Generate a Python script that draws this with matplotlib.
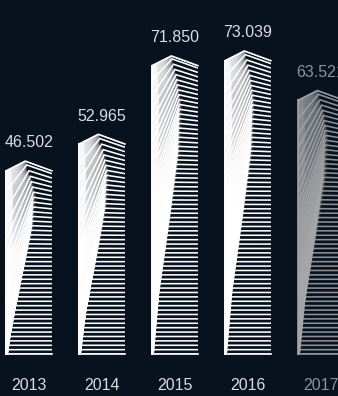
import numpy as np
import matplotlib
matplotlib.use("Agg")
import matplotlib.pyplot as plt
from matplotlib.patches import Polygon
from matplotlib.colors import to_rgb

# Values shown above each bar
years = ["2013", "2014", "2015", "2016", "2017"]
values = [46.502, 52.965, 71.850, 73.039, 63.521]
value_labels = ["46.502", "52.965", "71.850", "73.039", "63.521"]
highlight = [True, True, True, True, False]

BG = "#08121f"
W_PX, H_PX = 338, 396
DPI = 100

fig = plt.figure(figsize=(W_PX / DPI, H_PX / DPI), dpi=DPI, facecolor=BG)
ax = fig.add_axes([0, 0, 1, 1], facecolor=BG)
XMIN, XMAX, YMIN, YMAX = -0.397, 4.233, -10.1, 85.3
ax.set_xlim(XMIN, XMAX)
ax.set_ylim(YMIN, YMAX)
ax.axis("off")

# pixel scale of the data axes (keeps stripe slopes in screen space)
px_x = W_PX / (XMAX - XMIN)
px_y = H_PX / (YMAX - YMIN)

half_w = 0.315
step = 1.06          # vertical spacing between stripes
roof = 2.35          # roof rise above the eaves
peak_f = 0.42        # roof ridge position across the bar

# where each stripe turns down towards the lit face, by relative height
ctrl_u = [0.0, 0.22, 0.48, 0.70, 0.86, 0.95, 1.0]
ctrl_f = [0.03, 0.15, 0.38, 0.56, 0.60, 0.52, 0.42]
# brightness of the lit face by relative height
lit_u = [0.0, 0.55, 0.75, 0.88, 0.96, 1.0]
lit_a = [1.0, 1.0, 0.82, 0.78, 0.88, 0.9]


def draw_tower(x, v, color, alpha):
    xl, xr = x - half_w, x + half_w
    w = xr - xl
    top = v - roof
    outline = [(xl, 0), (xl, top), (xl + peak_f * w, v), (xr, top), (xr, 0)]
    clip = Polygon(outline, closed=True, transform=ax.transData)

    # lit face: soft white gradient left of the stripe break line
    ny, nx = 300, 120
    yy = np.linspace(v, 0, ny)[:, None]
    xx = np.linspace(0, 1, nx)[None, :]
    u = np.clip(yy / top, 0, 1)
    b = np.interp(u.ravel(), ctrl_u, ctrl_f).reshape(u.shape)
    base = np.interp(u.ravel(), lit_u, lit_a).reshape(u.shape)
    t = xx / b
    a = np.where(t <= 1, base * (1 - 0.45 * np.clip(t, 0, 1) ** 3),
                 base * 0.55 * np.exp(-((t - 1) / 0.06) ** 2))
    a = np.where(t < 0.25, np.maximum(a, 0.97), a)
    rgba = np.zeros((ny, nx, 4))
    rgba[..., :3] = to_rgb(color)
    rgba[..., 3] = np.clip(a, 0, 1) * alpha
    im = ax.imshow(rgba, extent=[xl, xr, 0, v], origin="upper",
                   aspect="auto", interpolation="bilinear", zorder=1)
    im.set_clip_path(clip)

    ys = np.arange(int(top / step) + 1) * step
    ys = np.append(ys[ys < top - 0.4 * step], top)
    for yr in ys:
        uu = yr / top
        fm = np.interp(uu, ctrl_u, ctrl_f) if uu < 1 else peak_f
        xm = xl + fm * w
        ym = yr + roof * uu ** 7
        slope = 0.52 + 6.0 * (1 - uu) ** 0.5
        yl = ym - slope * (fm * w * px_x) / px_y
        line, = ax.plot([xl, xm, xr], [yl, ym, yr], color=color, lw=1.15,
                        alpha=alpha, solid_joinstyle="miter",
                        solid_capstyle="butt", zorder=2)
        line.set_clip_path(clip)
    # roof line and outer edges
    ax.plot([xl, xl + peak_f * w, xr], [top, v, top], color=color, lw=1.1,
            alpha=alpha, zorder=3)
    ax.plot([xl, xl], [0, top], color=color, lw=1.4, alpha=alpha, zorder=3)
    ax.plot([xl, xr], [0, 0], color=color, lw=1.2, alpha=alpha, zorder=3)


for i, (yr_lbl, v, lbl, hl) in enumerate(zip(years, values, value_labels, highlight)):
    color = "#ffffff" if hl else "#a4a6a8"
    alpha = 1.0 if hl else 0.85
    draw_tower(i, v, color, alpha)
    tcol = "#d9dde2" if hl else "#8d9198"
    ax.text(i, v + 4.35, lbl, color=tcol, fontsize=11.5, ha="center",
            va="center", family="Liberation Sans")
    ax.text(i, -7.45, yr_lbl, color=tcol, fontsize=11.5, ha="center",
            va="center", family="Liberation Sans")

fig.savefig("out.png", dpi=DPI, facecolor=BG)
